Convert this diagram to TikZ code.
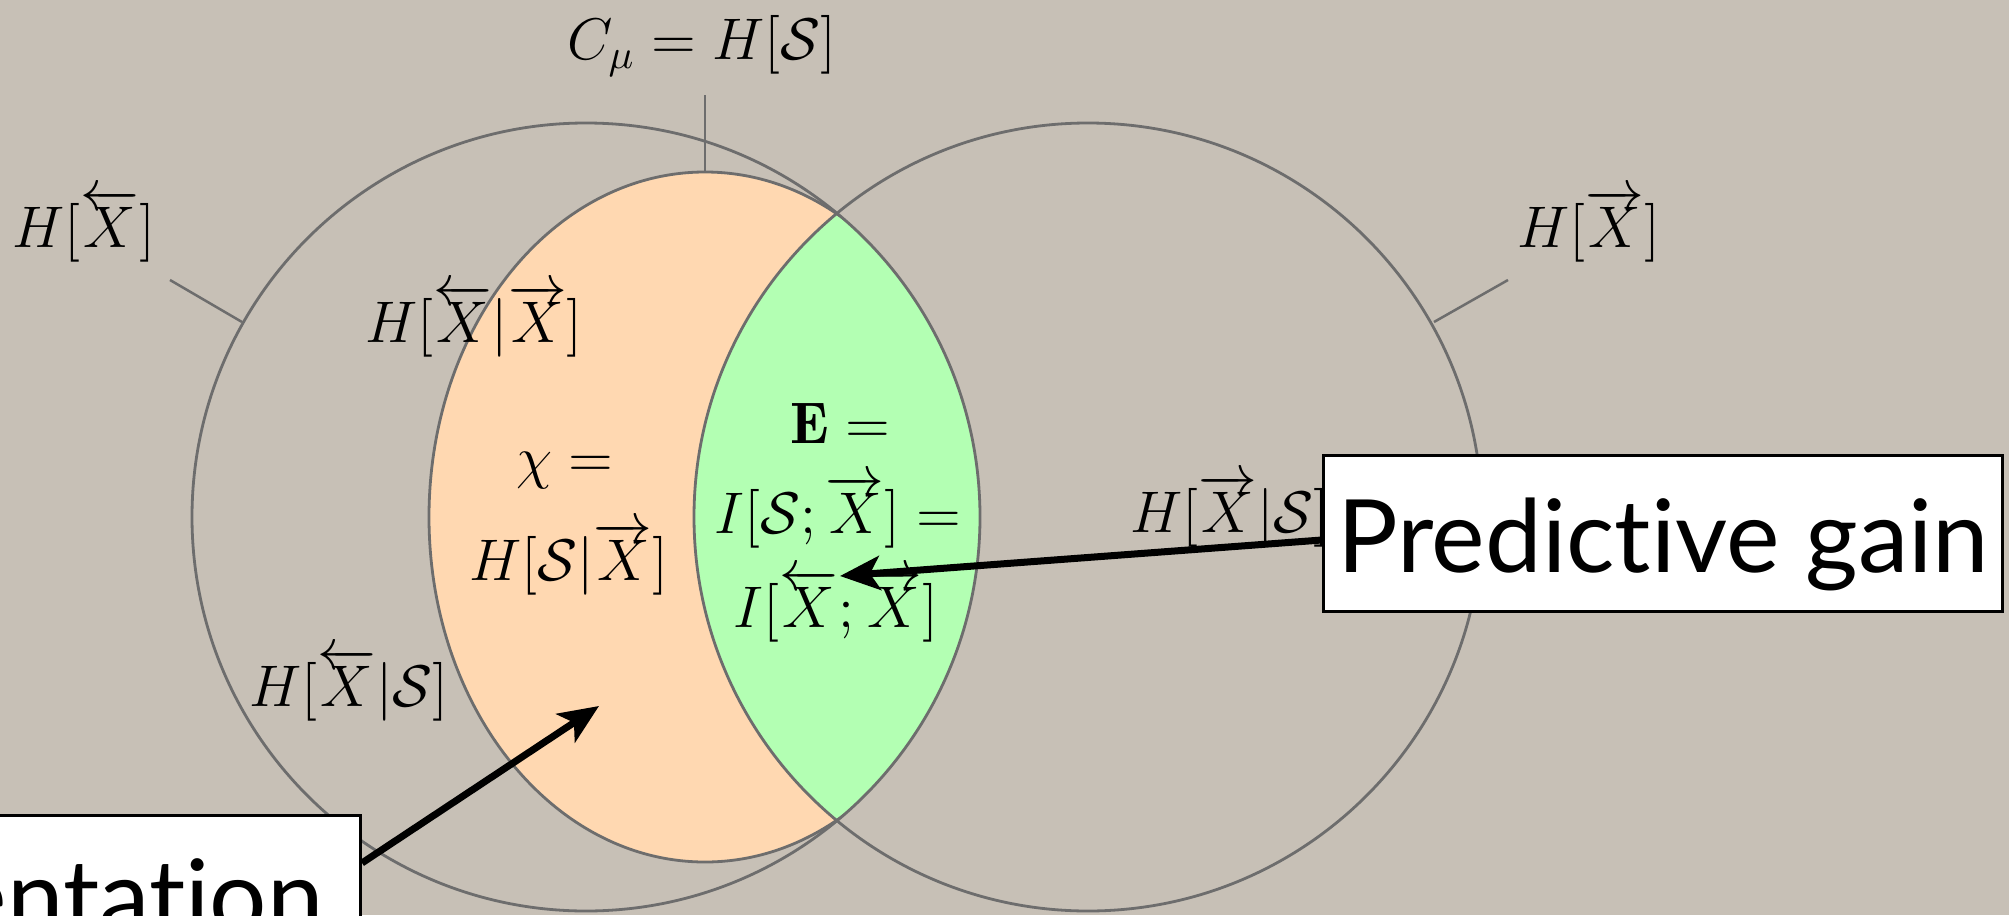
\documentclass[tikz,border=0pt]{standalone}
\usepackage{fix-cm}
\usepackage{fontspec}
\newfontfamily\lato[Ligatures=NoCommon]{Lato}
\usetikzlibrary{arrows.meta}
\definecolor{bg}{HTML}{C7C0B6}
\definecolor{peach}{HTML}{FFD8B1}
\definecolor{mint}{HTML}{B3FFB3}
\definecolor{outl}{HTML}{6D6D6D}
\begin{document}
\begin{tikzpicture}[x=0.01cm,y=-0.01cm,
  ml/.style={font=\fontsize{16.7}{20}\selectfont, inner sep=0pt, anchor=base},
  outline/.style={draw=outl, line width=0.028cm},
  tickline/.style={draw=outl, line width=0.025cm},
  arr/.style={draw=black, line width=0.07cm, -{Stealth[length=0.4cm,width=0.34cm,inset=0.1cm]}},
  labelbox/.style={draw=black, fill=white, line width=0.03cm, font=\lato\fontsize{28.8}{34}\selectfont, inner ysep=0pt, text height=1.16cm, text depth=0.39cm}]
\useasboundingbox (0,0) rectangle (2009,915);
\fill[bg] (0,0) rectangle (2009,915);
% regions (kept inside the left circle)
\begin{scope}
  \clip (586,517) circle [radius=394];
  \fill[peach] (705,517) ellipse [x radius=276, y radius=345];
  \begin{scope}
    \clip (705,517) ellipse [x radius=276, y radius=345];
    \fill[mint] (1088,517) circle [radius=394];
  \end{scope}
  \draw[outline] (705,517) ellipse [x radius=276, y radius=345];
\end{scope}
% outlines
\draw[outline] (586,517) circle [radius=394];
\draw[outline] (1088,517) circle [radius=394];
% labels
\node[ml] (cmu) at (702,60) {$C_\mu = H[\mathcal{S}]$};
\node[ml] (hpast) at (84,247) {$H[\overleftarrow{X}]$};
\node[ml] (hfut) at (1589,247) {$H[\overrightarrow{X}]$};
\node[ml] (hpf) at (474,342) {$H[\overleftarrow{X}|\overrightarrow{X}]$};
\node[ml] (chi1) at (565,477) {$\chi =$};
\node[ml] (chi2) at (569,580) {$H[\mathcal{S}|\overrightarrow{X}]$};
\node[ml] (e1) at (840,443) {$\mathbf{E} =$};
\node[ml] (e2) at (838,533) {$I[\mathcal{S};\overrightarrow{X}] =$};
\node[ml] (e3) at (836,627) {$I[\overleftarrow{X};\overrightarrow{X}]$};
\node[ml] (hps) at (349,706) {$H[\overleftarrow{X}|\mathcal{S}]$};
\node[ml] (hfs) at (1230,532) {$H[\overrightarrow{X}|\mathcal{S}]$};
% ticks
\coordinate (cmuA) at (705,95);
\coordinate (cmuB) at (705,173);
\coordinate (lpA) at (170,280);
\coordinate (lpB) at (242,322);
\coordinate (rfA) at (1508,280);
\coordinate (rfB) at (1434,322);
\draw[tickline] (cmuA) -- (cmuB);
\draw[tickline] (lpA) -- (lpB);
\draw[tickline] (rfA) -- (rfB);
% boxes
\node[labelbox, anchor=base west, minimum width=6.79cm, inner xsep=0pt] (pg) at (1322,572) {Predictive gain};
\node[labelbox, anchor=base east, inner xsep=0.37cm] (rep) at (362,932) {Representation};
% arrows
\coordinate (etip) at (840,576);
\coordinate (chitip) at (599,706);
\draw[arr] ([yshift=0.32cm]pg.base west) -- (etip);
\draw[arr] ([yshift=0.69cm]rep.base east) -- (chitip);
\end{tikzpicture}
\end{document}
